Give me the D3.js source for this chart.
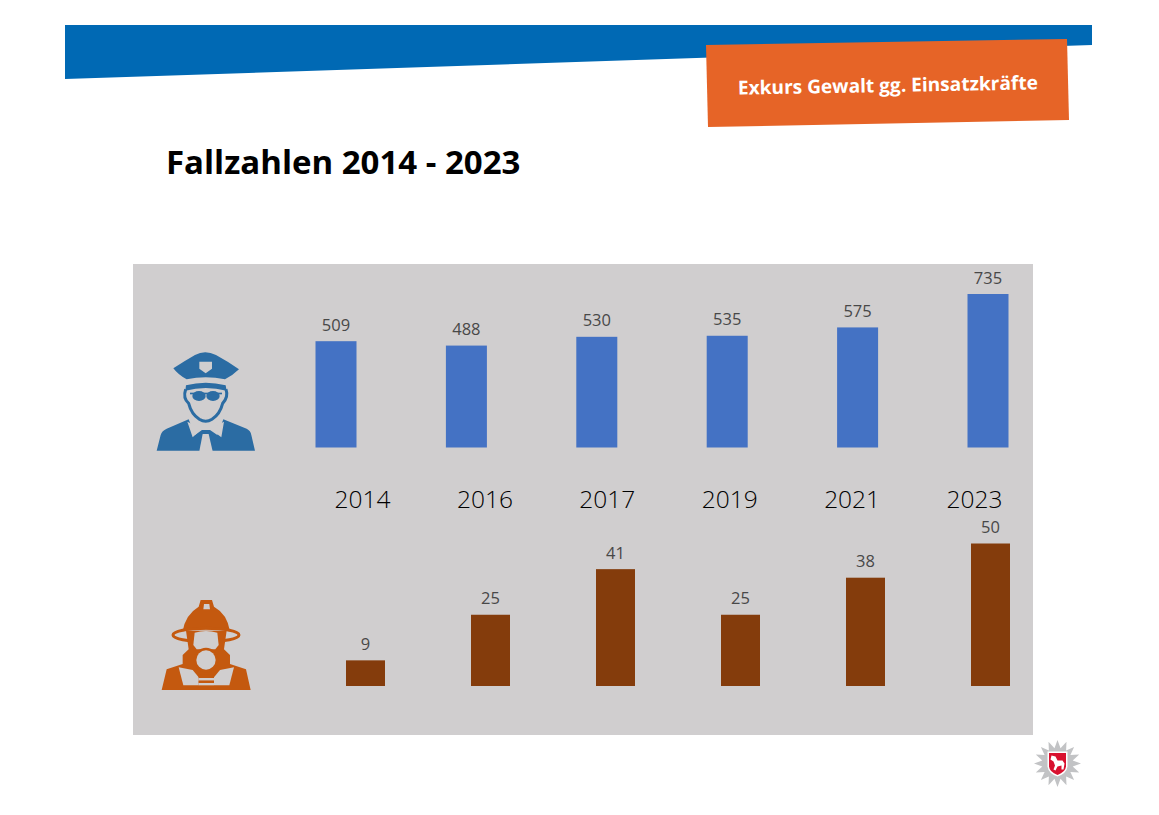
<!DOCTYPE html>
<html><head><meta charset="utf-8">
<script src="https://cdnjs.cloudflare.com/ajax/libs/d3/7.9.0/d3.min.js"></script>
<style>html,body{margin:0;padding:0;background:#fff}svg{display:block}</style>
</head><body><svg id="c" width="1159" height="815"></svg>
<script>
const years = ["2014","2016","2017","2019","2021","2023"];
const police = [509,488,530,535,575,735];
const fire = [9,25,41,25,38,50];
const titleText = "Fallzahlen 2014 - 2023";
const tagText = "Exkurs Gewalt gg. Einsatzkräfte";

const svg = d3.select("#c");
const font = "'Open Sans','Noto Sans',sans-serif";
const poly = (pts,fill,p=svg)=>p.append("polygon").attr("points",pts.map(d=>d.join(",")).join(" ")).attr("fill",fill);

poly([[65,25],[1092,25],[1092,45],[65,79]],"#0069b4");
poly([[706,45],[1067,39],[1069,120],[708,127]],"#e66427");
svg.append("text").attr("transform","translate(888,92) rotate(-1)").attr("text-anchor","middle")
  .attr("font-family",font).attr("font-weight",700).attr("font-size",19.1).attr("fill","#fff").text(tagText);
svg.append("text").attr("x",166).attr("y",174).attr("font-family",font).attr("font-weight",700)
  .attr("font-size",33).attr("fill","#000").text(titleText);
svg.append("rect").attr("x",133).attr("y",264).attr("width",900).attr("height",471).attr("fill","#d0cecf");

function bars(values,cfg){
  const x = d3.scalePoint().domain(years).range(cfg.xr);
  const y = d3.scaleLinear().domain([0,cfg.max]).range([cfg.base,cfg.top]);
  const g = svg.append("g");
  g.selectAll("rect").data(values).join("rect")
    .attr("x",(d,i)=>x(years[i])-cfg.w/2).attr("y",d=>y(d))
    .attr("width",cfg.w).attr("height",d=>cfg.base-y(d)).attr("fill",cfg.color);
  g.selectAll("text").data(values).join("text")
    .attr("x",(d,i)=>x(years[i])).attr("y",d=>y(d)-10.5).attr("text-anchor","middle")
    .attr("font-family",font).attr("font-size",16.5).attr("fill","#484848").text(d=>d);
}
bars(police,{xr:[336,988],w:41,base:447.5,top:294,max:735,color:"#4472c4"});
bars(fire,{xr:[365.5,990.5],w:39,base:686,top:543.5,max:50,color:"#843c0c"});

const xYear = d3.scalePoint().domain(years).range([362,974]);
const axis = d3.axisBottom(xYear).tickSize(0).tickPadding(0);
const ag = svg.append("g").attr("transform","translate(0,490)").call(axis);
ag.select(".domain").remove();
ag.selectAll("text").attr("font-family",font).attr("font-size",24.5).attr("font-weight",300).attr("fill","#000").attr("dy","0.72em");

// police icon
const P="#2b6ca3", G="#d0cecf";
const pi = svg.append("g").attr("transform","translate(140,340) scale(0.3333)");
pi.append("path").attr("fill",P).attr("d","M100 85Q135 62 165 45Q195 28 228 45Q265 65 297 88Q280 105 255 118Q197 105 140 118Q115 105 100 85Z");
pi.append("path").attr("fill",G).attr("d","M178 65L216 65L216 86L197 100L178 86Z");
pi.append("path").attr("fill",P).attr("d","M50 332L62 285Q66 272 80 266L146 238L165 285L186 270L210 270L232 285L250 238L320 266Q332 272 334 285L345 332Z");
pi.append("path").attr("fill",G).attr("d","M142 245L178 262L197 252L218 262L252 245L244 292L212 268L184 268L158 292Z");
pi.append("path").attr("fill",G).attr("d","M188 282L206 282L218 334L178 334Z");
pi.append("path").attr("fill",P).attr("d","M138 136Q197 120 257 136L260 152Q197 136 136 152Z");
pi.append("path").attr("fill","none").attr("stroke",P).attr("stroke-width",9).attr("d","M137 148Q128 175 146 190Q154 222 178 238Q197 250 216 238Q240 222 248 190Q266 172 258 148");
pi.append("ellipse").attr("cx",177).attr("cy",168).attr("rx",20).attr("ry",15).attr("fill",P);
pi.append("ellipse").attr("cx",219).attr("cy",168).attr("rx",20).attr("ry",15).attr("fill",P);
pi.append("rect").attr("x",150).attr("y",158).attr("width",96).attr("height",5).attr("fill",P);

// firefighter icon
const F="#c4590f";
const fi = svg.append("g").attr("transform","translate(150,590) scale(0.3333)");
fi.append("path").attr("fill",F).attr("d","M152 30L186 30L192 50Q232 72 240 124Q168 112 98 124Q106 74 146 50Z");
fi.append("path").attr("fill",G).attr("d","M162 42L178 42L180 58L160 58Z");
fi.append("ellipse").attr("cx",168).attr("cy",135).attr("rx",99).attr("ry",20).attr("fill","none").attr("stroke",F).attr("stroke-width",9);
fi.append("path").attr("fill",F).attr("d","M108 122L230 122L222 178L240 195L240 222L288 238L302 300L35 300L50 238L98 222L98 195L116 178Z");
fi.append("path").attr("fill",G).attr("d","M86 232L128 240L146 262L146 286L100 286Z");
fi.append("path").attr("fill",G).attr("d","M252 232L210 240L192 262L192 286L238 286Z");
fi.append("path").attr("fill",G).attr("d","M134 128Q168 118 202 128L206 165L196 178L140 178L130 165Z");
fi.append("circle").attr("cx",168).attr("cy",210).attr("r",37).attr("fill",F);
fi.append("circle").attr("cx",168).attr("cy",210).attr("r",29).attr("fill",G);
fi.append("rect").attr("x",146).attr("y",254).attr("width",46).attr("height",10).attr("fill",F);
fi.append("rect").attr("x",146).attr("y",264).attr("width",46).attr("height",8).attr("fill",G);
fi.append("rect").attr("x",146).attr("y",272).attr("width",46).attr("height",7).attr("fill",F);
fi.append("rect").attr("x",146).attr("y",279).attr("width",46).attr("height",7).attr("fill",G);

// badge
const badge = svg.append("g").attr("transform","translate(1057.5,763.5)");
const star = d3.range(32).map(i=>{const a=i*Math.PI/16,r=i%2?15.5:23.5;return [r*Math.sin(a),-r*Math.cos(a)];});
poly(star,"#c2c3c5",badge);
badge.append("path").attr("fill","#fff").attr("d","M-10 -12L10 -12L10 3Q9 10 0 13Q-9 10 -10 3Z");
badge.append("path").attr("fill","#d8112f").attr("d","M-8.5 -10.5L8.5 -10.5L8.5 3Q8 8.5 0 11.5Q-8 8.5 -8.5 3Z");
badge.append("path").attr("fill","#fff").attr("d","M-6 -8L-2 -7L0 -3L5 -3L7 0L6 6L4 6L4 2L0 3L-2 7L-4 6L-2.5 2L-4 -2L-7 -4Z");
</script></body></html>
